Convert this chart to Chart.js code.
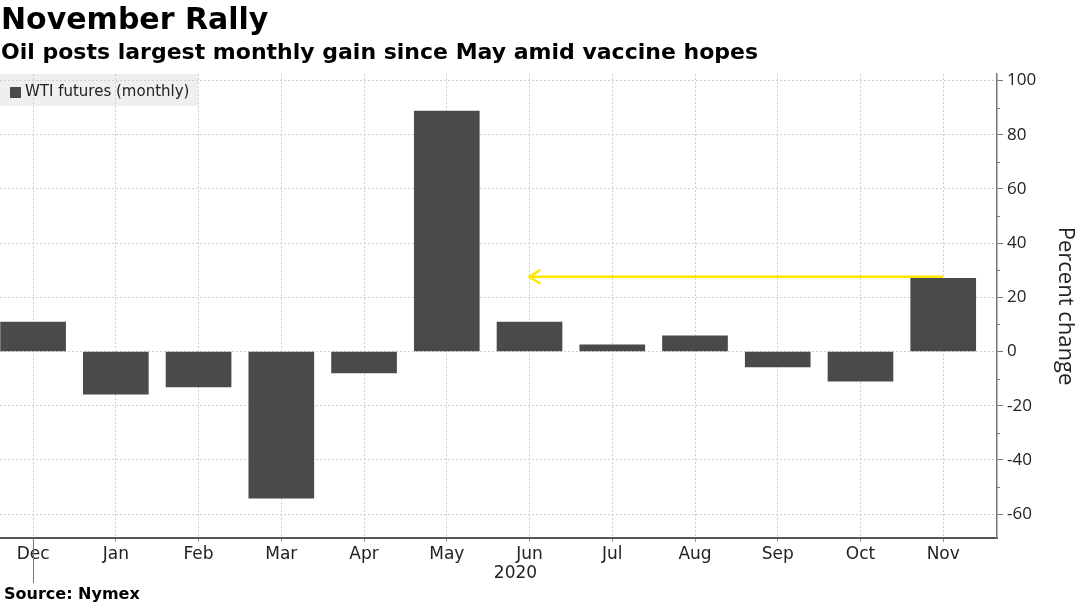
<!DOCTYPE html>
<html>
<head>
<meta charset="utf-8">
<script src="https://cdn.jsdelivr.net/npm/chart.js@4.4.0/dist/chart.umd.min.js"></script>
<style>
  body { margin: 0; background: #fff; }
  #wrap { position: relative; width: 1079px; height: 606px; overflow: hidden; }
  #chart { position: absolute; left: 0; top: 0; }
  .title { position: absolute; left: 1px; top: 1px; font: bold 30px "DejaVu Sans"; color: #000; }
  .subtitle { position: absolute; left: 1px; top: 39px; font: bold 22px "DejaVu Sans"; color: #000; }
  .source { position: absolute; left: 4px; top: 584px; font: bold 16px "DejaVu Sans"; color: #000; }
</style>
</head>
<body>
<div id="wrap">
  <canvas id="chart" width="1079" height="606"></canvas>
  <div class="title">November Rally</div>
  <div class="subtitle">Oil posts largest monthly gain since May amid vaccine hopes</div>
  <div class="source">Source: Nymex</div>
</div>
<script>
// data
const months = ['Dec', 'Jan', 'Feb', 'Mar', 'Apr', 'May', 'Jun', 'Jul', 'Aug', 'Sep', 'Oct', 'Nov'];
const changes = [10.9, -15.7, -13.1, -54.1, -7.9, 88.7, 10.9, 2.5, 5.8, -5.7, -10.9, 27.0];
const yTicks = [-60, -40, -20, 0, 20, 40, 60, 80, 100];
const yMinor = [-50, -30, -10, 10, 30, 50, 70, 90];
const seriesLabel = 'WTI futures (monthly)';
const yearLabel = '2020';
const arrowFrom = 11;   // Nov
const arrowTo = 6;      // Jun
const arrowLevel = 27.6;

const barColor = '#4a4a4a';
const gridColor = '#cfcfcf';

const extras = {
  id: 'extras',
  beforeDraw(chart) {
    const ctx = chart.ctx;
    const a = chart.chartArea;
    ctx.save();
    ctx.fillStyle = '#efefef';
    ctx.fillRect(a.left, a.top, 198, 32);
    ctx.restore();
  },
  afterDatasetsDraw(chart) {
    const ctx = chart.ctx;
    const x = chart.scales.x, y = chart.scales.y;
    const a = chart.chartArea;

    // legend
    ctx.save();
    ctx.fillStyle = barColor;
    ctx.fillRect(a.left + 10, a.top + 13, 11, 11);
    ctx.fillStyle = '#222';
    ctx.font = '15px "DejaVu Sans"';
    ctx.textBaseline = 'middle';
    ctx.fillText(seriesLabel, a.left + 25, a.top + 18);

    // yellow arrow
    const x1 = x.getPixelForValue(arrowFrom);
    const x2 = x.getPixelForValue(arrowTo);
    const yy = y.getPixelForValue(arrowLevel);
    ctx.strokeStyle = '#ffe800';
    ctx.lineWidth = 2.5;
    ctx.beginPath();
    ctx.moveTo(x1, yy);
    ctx.lineTo(x2, yy);
    ctx.moveTo(x2 + 11, yy - 7);
    ctx.lineTo(x2, yy);
    ctx.lineTo(x2 + 11, yy + 7);
    ctx.stroke();
    ctx.restore();
  },
  afterDraw(chart) {
    const ctx = chart.ctx;
    const x = chart.scales.x, y = chart.scales.y;
    const a = chart.chartArea;
    ctx.save();
    // minor ticks on the right axis
    ctx.strokeStyle = '#777';
    ctx.lineWidth = 1;
    ctx.beginPath();
    yMinor.forEach(v => {
      const py = Math.round(y.getPixelForValue(v)) + 0.5;
      ctx.moveTo(a.right, py);
      ctx.lineTo(a.right + 3, py);
    });
    // year separator below Dec
    const px = Math.round(x.getPixelForValue(0)) + 0.5;
    ctx.moveTo(px, a.bottom);
    ctx.lineTo(px, a.bottom + 45);
    ctx.stroke();
    // year label
    ctx.fillStyle = '#222';
    ctx.font = '17px "DejaVu Sans"';
    ctx.textAlign = 'center';
    ctx.textBaseline = 'middle';
    ctx.fillText(yearLabel, x.getPixelForValue(5.83), a.bottom + 36);
    ctx.restore();
  }
};

new Chart(document.getElementById('chart'), {
  type: 'bar',
  data: {
    datasets: [{
      label: seriesLabel,
      data: changes.map((v, i) => ({ x: i, y: v })),
      backgroundColor: barColor,
      borderWidth: 0,
      barThickness: 65
    }]
  },
  options: {
    responsive: false,
    animation: false,
    layout: { padding: { top: 74, left: 0, right: 0, bottom: 0 } },
    plugins: {
      legend: { display: false },
      tooltip: { enabled: false }
    },
    scales: {
      x: {
        type: 'linear',
        offset: false,
        min: -0.4,
        max: 11.65,
        afterBuildTicks: s => { s.ticks = months.map((m, i) => ({ value: i })); },
        afterFit: s => { s.height = 68; },
        ticks: {
          callback: v => months[v],
          color: '#222',
          font: { family: 'DejaVu Sans', size: 17 },
          padding: 2,
          maxRotation: 0,
          autoSkip: false
        },
        grid: { offset: false, color: gridColor, tickColor: '#999', tickLength: 4, lineWidth: 1 },
        border: { display: true, color: '#555', width: 2, dash: [2, 2] }
      },
      y: {
        position: 'right',
        min: -68.8,
        max: 102.4,
        afterBuildTicks: s => { s.ticks = yTicks.map(v => ({ value: v })); },
        afterFit: s => { s.width = 82; },
        ticks: {
          color: '#222',
          font: { family: 'Open Sans', size: 17 },
          padding: 4
        },
        grid: { color: gridColor, tickColor: '#777', tickLength: 6, lineWidth: 1 },
        border: { display: true, color: '#777', width: 1.5, dash: [2, 2] },
        title: {
          display: true,
          text: 'Percent change',
          color: '#222',
          font: { family: 'Open Sans', size: 22 },
          padding: { top: 1, bottom: 0 }
        }
      }
    }
  },
  plugins: [extras]
});
</script>
</body>
</html>
